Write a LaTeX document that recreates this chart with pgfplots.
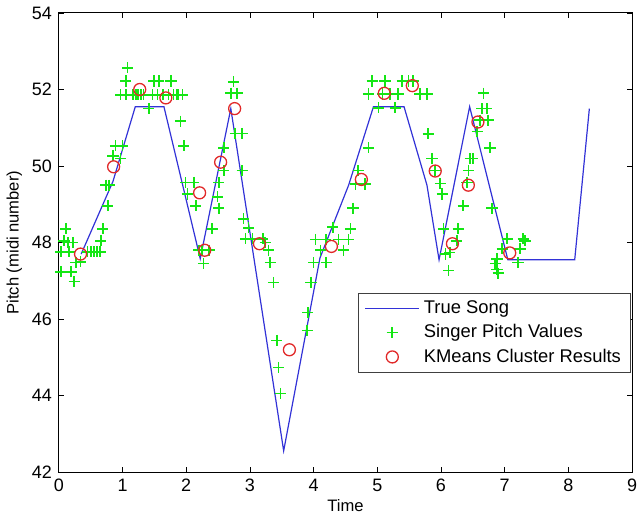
\documentclass[border=0pt]{standalone}
\usepackage{pgfplots}
\pgfplotsset{compat=1.18}
\usepackage{fontspec}
\setmainfont{Liberation Sans}

\definecolor{songblue}{RGB}{50,50,215}
\definecolor{pitchgreen}{RGB}{20,230,20}
\definecolor{kmred}{RGB}{225,40,40}

\pgfplotsset{
  longline legend/.style={legend image code/.code={\draw[##1] (-4pt,0pt) -- (23pt,0pt);}},
  mark legend/.style={legend image code/.code={\draw[##1] plot coordinates {(9.5pt,0pt)};}},
}

\begin{document}
\begin{tikzpicture}
\begin{axis}[
  scale only axis,
  width=287pt, height=230pt,
  xmin=0, xmax=9, ymin=42, ymax=54,
  xtick={0,...,9}, ytick={42,44,...,54},
  tick align=inside, major tick length=2.5pt,
  every tick/.style={black, line width=0.4pt},
  axis line style={black, line width=0.5pt},
  /pgf/number format/assume math mode=true,
  tick label style={font=\fontsize{9}{10}\selectfont},
  label style={font=\fontsize{8.3}{9}\selectfont},
  xlabel={Time}, ylabel={Pitch (midi number)},
  xlabel style={yshift=3pt},
  ylabel style={yshift=-2pt},
  legend cell align=left,
  legend style={at={(0.999,0.217)}, anchor=south east,
    font=\fontsize{9.2}{10}\selectfont, draw=black!75, line width=0.5pt,
    row sep=0pt, inner xsep=3pt, inner ysep=1.5pt},
  clip=false,
]
% true song
\addplot[songblue, line width=0.6pt, mark=none, longline legend] coordinates {
(0.35,47.7) (0.85,49.6) (1.2,51.55) (1.65,51.55) (2.22,47.58) (2.7,51.5)
(3.53,42.56) (4.1,47.6) (4.55,49.5) (4.94,51.55) (5.42,51.55) (5.78,49.5)
(5.97,47.55) (6.45,51.55) (7.05,47.55) (8.1,47.55) (8.33,51.5)
};
\addlegendentry{True Song}
% singer pitch values
\addplot[only marks, mark=+, mark size=2.8pt, color=pitchgreen,
  mark options={draw=pitchgreen, line width=0.85pt}, mark legend] coordinates {
(0.03,47.76) (0.03,47.24) (0.08,48.05) (0.11,48.36) (0.14,48.0) (0.16,47.76)
(0.19,47.24) (0.22,48.0) (0.24,46.98) (0.27,47.48) (0.34,47.5)
(0.45,47.76) (0.5,47.76) (0.55,47.76) (0.6,47.76) (0.65,47.76)
(0.66,48.05) (0.69,48.36) (0.77,48.96) (0.74,49.5) (0.79,49.5)
(0.85,50.27) (0.97,50.2) (0.89,50.53) (1.0,50.53)
(1.08,52.57) (1.05,52.22) (1.49,52.22) (1.57,52.22) (1.76,52.22)
(0.97,51.86) (1.05,51.86) (1.16,51.86) (1.21,51.86) (1.24,51.86) (1.29,51.86)
(1.33,51.86) (1.47,51.86) (1.55,51.86) (1.63,51.86) (1.72,51.86) (1.8,51.86)
(1.85,51.86) (1.88,51.86) (1.94,51.86)
(1.41,51.5) (1.91,51.17) (1.96,50.53)
(1.99,49.57) (2.12,49.57) (2.02,49.27) (2.15,48.96)
(2.2,47.8) (2.25,47.8) (2.36,47.8) (2.27,47.45)
(2.41,48.36) (2.49,49.2) (2.51,48.9) (2.51,49.57) (2.59,49.88) (2.59,50.48)
(2.77,50.85) (2.88,50.85) (2.7,51.9) (2.8,51.9) (2.74,52.2)
(2.88,49.88) (2.9,48.62) (2.98,48.39) (2.93,48.1) (3.04,48.1) (3.2,48.1)
(3.24,48.0) (3.29,47.8) (3.32,47.48) (3.37,46.96)
(3.42,45.44) (3.45,44.74) (3.48,44.06)
(3.9,45.7) (3.91,46.17) (3.96,46.96) (4.0,47.48) (4.2,47.48)
(4.03,48.08) (4.19,48.08) (4.39,48.08) (4.55,48.08) (4.11,47.8) (4.47,47.8)
(4.3,48.4) (4.58,48.36) (4.62,48.9)
(4.7,49.88) (4.66,49.53) (4.81,49.53) (4.86,50.48)
(4.92,52.22) (5.12,52.22) (5.39,52.22) (5.49,52.22) (5.56,52.22)
(4.86,51.88) (5.08,51.88) (5.2,51.88) (5.33,51.88) (5.67,51.88) (5.78,51.88)
(5.02,51.52) (5.28,51.52)
(5.8,50.84) (5.86,50.2)
(5.91,49.88) (5.99,49.54) (6.02,49.27) (6.07,47.7) (6.12,47.27) (6.14,47.74)
(6.04,48.36) (6.25,48.05) (6.27,48.36) (6.35,48.96) (6.41,49.57) (6.43,49.88)
(6.46,50.2) (6.5,50.2) (6.57,50.9) (6.61,51.2) (6.74,51.2) (6.64,51.5)
(6.72,51.5) (6.67,51.9) (6.77,50.48) (6.8,48.9)
(7.04,48.1) (7.29,48.1) (6.96,47.84) (7.24,47.84) (6.88,47.58) (7.21,47.48)
(6.85,47.45) (6.88,47.3) (6.9,47.2) (7.32,48.05)
};
\addlegendentry{Singer Pitch Values}
% kmeans cluster results
\addplot[only marks, mark=o, mark size=3pt, color=kmred,
  mark options={draw=kmred, line width=0.65pt}, mark legend] coordinates {
(0.34,47.7) (0.86,49.98) (1.27,52.0) (1.68,51.78) (2.21,49.3) (2.29,47.8)
(2.54,50.1) (2.76,51.5) (3.15,47.97) (3.62,45.2) (4.28,47.9) (4.75,49.65)
(5.11,51.9) (5.55,52.1) (5.91,49.87) (6.18,47.97) (6.43,49.5) (6.58,51.15)
(7.08,47.73)
};
\addlegendentry{KMeans Cluster Results}
% page margins
\path (rel axis cs:0,0) ++(-29pt,-22pt) (rel axis cs:1,1) ++(6pt,6pt);
\end{axis}
\end{tikzpicture}
\end{document}
